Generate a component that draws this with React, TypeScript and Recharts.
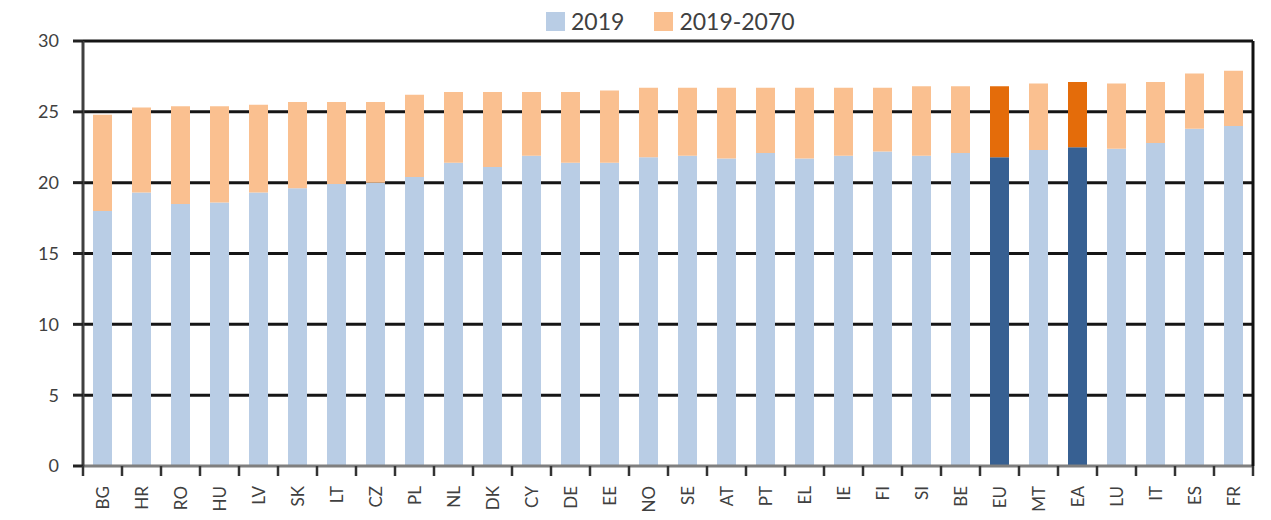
import React from 'react';
import { BarChart, Bar, XAxis, YAxis, CartesianGrid, Cell } from 'recharts';

const countries = ['BG', 'HR', 'RO', 'HU', 'LV', 'SK', 'LT', 'CZ', 'PL', 'NL', 'DK', 'CY', 'DE', 'EE', 'NO',
  'SE', 'AT', 'PT', 'EL', 'IE', 'FI', 'SI', 'BE', 'EU', 'MT', 'EA', 'LU', 'IT', 'ES', 'FR'];

// 2019 level
const level2019 = [18.0, 19.3, 18.5, 18.6, 19.3, 19.6, 19.9, 20.0, 20.4, 21.4, 21.1, 21.9, 21.4, 21.4, 21.8,
  21.9, 21.7, 22.1, 21.7, 21.9, 22.2, 21.9, 22.1, 21.8, 22.3, 22.5, 22.4, 22.8, 23.8, 24.0];

// change 2019-2070
const change = [6.8, 6.0, 6.9, 6.8, 6.2, 6.1, 5.8, 5.7, 5.8, 5.0, 5.3, 4.5, 5.0, 5.1, 4.9,
  4.8, 5.0, 4.6, 5.0, 4.8, 4.5, 4.9, 4.7, 5.0, 4.7, 4.6, 4.6, 4.3, 3.9, 3.9];

const highlighted = ['EU', 'EA'];
const yTicks = [0, 5, 10, 15, 20, 25, 30];

const CHART_W = 1255;
const CHART_H = 512;
const Y_W = 75;
const RIGHT_W = 10;
const HALF_BAND = (CHART_W - Y_W - RIGHT_W) / countries.length / 2;

const FONT = 'Lato, "Open Sans", sans-serif';

const data = countries.map((c, i) => ({ country: c, base: level2019[i], rise: change[i] }));

const XTick = (props: any) => {
  const { x, y, payload, index } = props;
  return (
    <g>
      <line x1={x - HALF_BAND} x2={x - HALF_BAND} y1={y} y2={y + 10} stroke="#333" strokeWidth={2.5} />
      {index === countries.length - 1 && (
        <line x1={x + HALF_BAND} x2={x + HALF_BAND} y1={y} y2={y + 10} stroke="#333" strokeWidth={2.5} />
      )}
      <text
        x={x}
        y={y + 20}
        dy="0.36em"
        textAnchor="end"
        transform={`rotate(-90, ${x}, ${y + 20})`}
        fontSize={17}
        fontFamily={FONT}
        fill="#404040"
      >
        {payload.value}
      </text>
    </g>
  );
};

const LegendItem = ({ color, label }: { color: string; label: string }) => (
  <div style={{ display: 'flex', alignItems: 'center', marginRight: 30 }}>
    <div style={{ width: 19, height: 19, background: color, marginRight: 6 }} />
    <span style={{ fontSize: 23, color: '#404040', fontFamily: FONT }}>{label}</span>
  </div>
);

export default function App() {
  return (
    <div style={{ position: 'relative', width: CHART_W, height: CHART_H }}>
      <div style={{ position: 'absolute', left: 538, top: 0, height: 26, display: 'flex', alignItems: 'center' }}>
        <LegendItem color="#B9CDE5" label="2019" />
        <LegendItem color="#FAC090" label="2019-2070" />
      </div>
      <BarChart width={CHART_W} height={CHART_H} data={data} margin={{ top: 33, right: 0, left: 0, bottom: 0 }}>
        <CartesianGrid vertical={false} horizontalValues={[5, 10, 15, 20, 25, 30]} stroke="#151515" strokeWidth={3} />
        <XAxis
          dataKey="country"
          height={54}
          interval={0}
          tickLine={false}
          tickSize={0}
          tickMargin={0}
          axisLine={{ stroke: '#7f7f7f', strokeWidth: 3 }}
          tick={<XTick />}
        />
        <YAxis
          yAxisId={0}
          width={Y_W}
          domain={[0, 30]}
          ticks={yTicks}
          interval={0}
          tickSize={10}
          tickMargin={14}
          axisLine={{ stroke: '#404040', strokeWidth: 3 }}
          tickLine={{ stroke: '#222', strokeWidth: 3 }}
          tick={{ fontSize: 18, fill: '#404040', fontFamily: FONT }}
        />
        <YAxis
          yAxisId="right"
          orientation="right"
          width={RIGHT_W}
          domain={[0, 30]}
          tick={false}
          tickLine={false}
          axisLine={{ stroke: '#111', strokeWidth: 3 }}
        />
        <Bar dataKey="base" stackId="a" barSize={19} isAnimationActive={false}>
          {data.map((d) => (
            <Cell key={d.country} fill={highlighted.includes(d.country) ? '#376092' : '#B9CDE5'} />
          ))}
        </Bar>
        <Bar dataKey="rise" stackId="a" barSize={19} isAnimationActive={false}>
          {data.map((d) => (
            <Cell key={d.country} fill={highlighted.includes(d.country) ? '#E46C0A' : '#FAC090'} />
          ))}
        </Bar>
      </BarChart>
    </div>
  );
}
